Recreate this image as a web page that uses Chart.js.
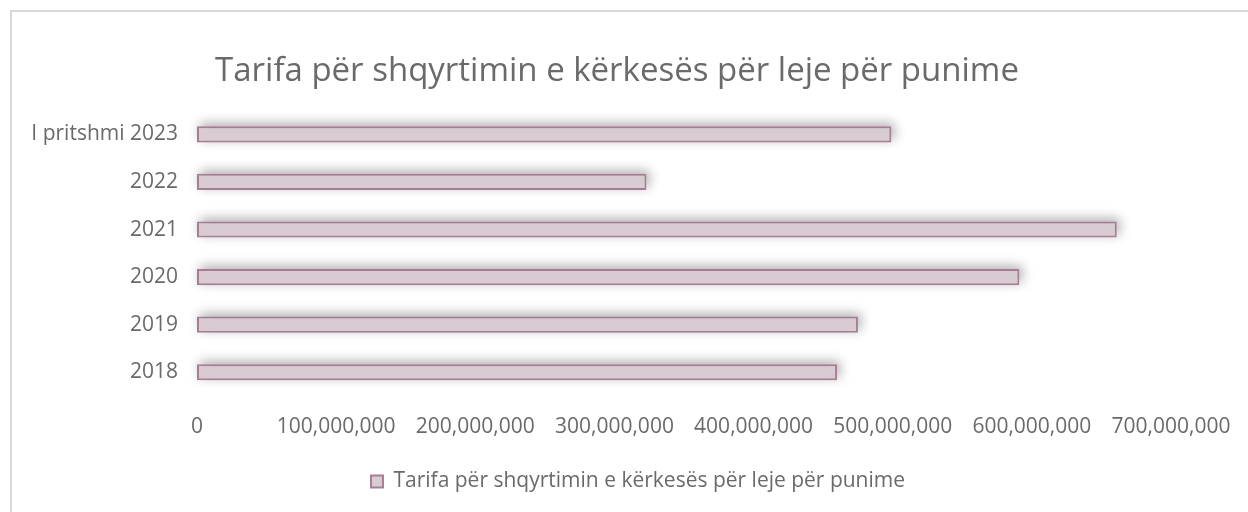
<!DOCTYPE html>
<html>
<head>
<meta charset="utf-8">
<script src="https://cdn.jsdelivr.net/npm/chart.js@4/dist/chart.umd.min.js"></script>
<style>
  html, body { margin: 0; padding: 0; background: #fff; overflow: hidden; }
  #frame { position: absolute; left: 10px; top: 10px; width: 1260px; height: 540px; border: 2px solid #d9d9d9; }
  #wrap { position: absolute; left: 0; top: 0; width: 1248px; height: 512px; }
</style>
</head>
<body>
<div id="frame"></div>
<div id="wrap"><canvas id="feeChart" width="1248" height="512"></canvas></div>
<script>
// Categories shown top to bottom
const years = ['I pritshmi 2023', '2022', '2021', '2020', '2019', '2018'];
const feeValues = [499000000, 323000000, 661000000, 591000000, 475000000, 460000000];
const seriesName = 'Tarifa për shqyrtimin e kërkesës për leje për punime';
const titleText = 'Tarifa për shqyrtimin e kërkesës për leje për punime';

const textColor = '#6a6a6a';
const fontFamily = '"Open Sans", sans-serif';

// soft shadow behind the bars (drawn off-canvas so only the shadow lands)
const barShadow = {
    id: 'barShadow',
    beforeDatasetsDraw(chart) {
        const ctx = chart.ctx;
        const shift = 5000;
        ctx.save();
        ctx.shadowColor = 'rgba(0,0,0,0.32)';
        ctx.shadowBlur = 12;
        ctx.shadowOffsetX = shift + 3;
        ctx.shadowOffsetY = -3;
        ctx.fillStyle = '#000';
        chart.getDatasetMeta(0).data.forEach(bar => {
            const p = bar.getProps(['x', 'y', 'base', 'height'], true);
            const left = Math.min(p.x, p.base);
            const w = Math.abs(p.x - p.base);
            ctx.fillRect(left - shift, p.y - p.height / 2, w, p.height);
        });
        ctx.restore();
    }
};

// nudge the legend a little to the right, like in the original
const legendShift = {
    id: 'legendShift',
    afterLayout(chart) {
        chart.legend.left += 21;
        chart.legend.right += 21;
    }
};

const ctx = document.getElementById('feeChart').getContext('2d');
const chart = new Chart(ctx, {
    type: 'bar',
    data: {
        labels: years,
        datasets: [{
            label: seriesName,
            data: feeValues,
            backgroundColor: '#d9cbd2',
            borderColor: '#a77d96',
            borderWidth: 2,
            borderSkipped: false,
            categoryPercentage: 1,
            barPercentage: 0.34
        }]
    },
    options: {
        indexAxis: 'y',
        responsive: false,
        animation: false,
        layout: { padding: { left: 0, right: 14, top: 0, bottom: 10 } },
        plugins: {
            title: {
                display: true,
                text: titleText,
                color: textColor,
                font: { family: fontFamily, size: 33, weight: '400' },
                padding: { top: 52, bottom: 19 }
            },
            legend: {
                position: 'bottom',
                labels: {
                    color: textColor,
                    font: { family: fontFamily, size: 21 },
                    boxWidth: 12,
                    boxHeight: 12,
                    padding: 8
                }
            },
            tooltip: { enabled: false }
        },
        scales: {
            x: {
                min: 0,
                max: 700000000,
                grid: { display: false, drawTicks: false },
                border: { display: false },
                ticks: {
                    stepSize: 100000000,
                    padding: 18,
                    color: textColor,
                    font: { family: fontFamily, size: 21 },
                    callback: v => v.toLocaleString('en-US')
                },
                afterFit: s => { s.height = 67; s.paddingRight = 77; }
            },
            y: {
                grid: { display: false, drawTicks: false },
                border: { display: false },
                ticks: {
                    padding: 19,
                    color: textColor,
                    font: { family: fontFamily, size: 21 }
                },
                afterFit: s => { s.width = 197; }
            }
        }
    },
    plugins: [barShadow, legendShift]
});
</script>
</body>
</html>
